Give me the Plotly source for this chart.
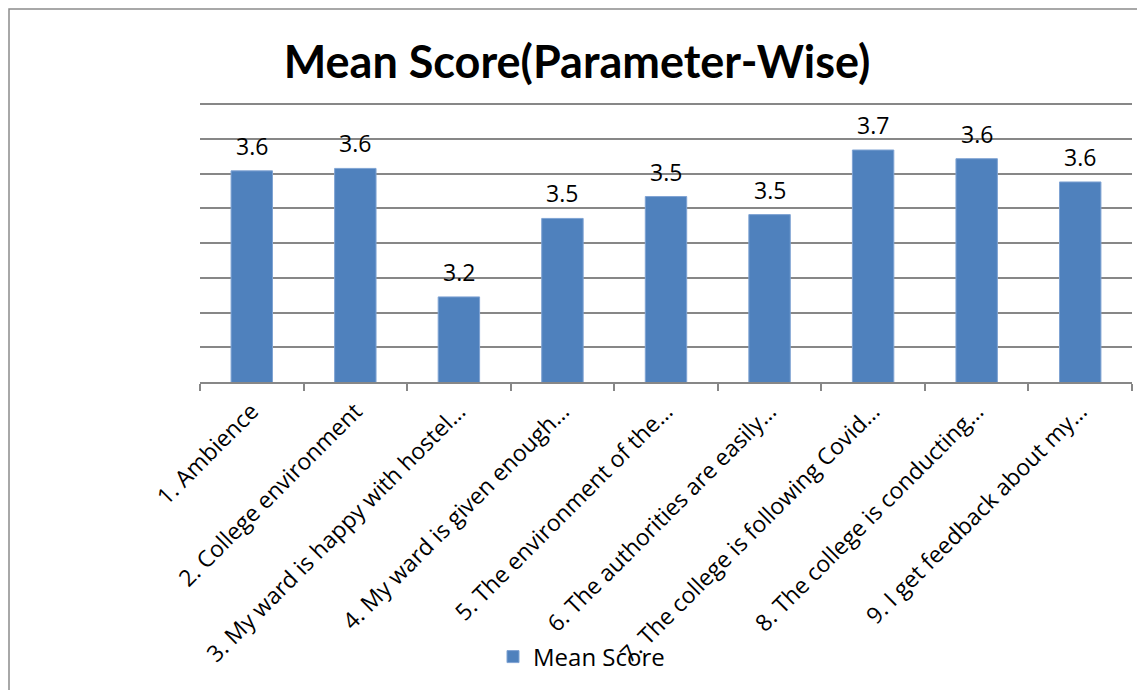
import plotly.graph_objects as go

categories = [
    "1. Ambience",
    "2. College environment",
    "3. My ward is happy with hostel…",
    "4. My ward is given enough…",
    "5. The environment of the…",
    "6. The authorities are easily…",
    "7. The college is following Covid…",
    "8. The college is conducting…",
    "9. I get feedback about my…",
]
mean_scores = [3.608, 3.615, 3.245, 3.471, 3.534, 3.482, 3.668, 3.643, 3.576]
series_name = "Mean Score"
title_text = "Mean Score(Parameter-Wise)"
y_min, y_top_grid, y_max = 3.0, 3.8, 3.812

W, H = 1137, 690
L, R, T, B = 200, 5, 100, 308
pw, ph = W - L - R, H - T - B

FONT = "'Open Sans', Carlito, Calibri, sans-serif"
TFONT = "Lato, Carlito, Calibri, sans-serif"
BAR = "#4F81BD"
GRID = "#878787"
FS = 23

fig = go.Figure()
fig.add_trace(go.Bar(
    x=categories, y=mean_scores, name=series_name,
    marker=dict(color=BAR, line=dict(color="#7fa3d3", width=1)),
    width=0.4, showlegend=True,
))

for c, v in zip(categories, mean_scores):
    fig.add_annotation(x=c, y=v, text=f"{v:.1f}", showarrow=False,
                       yanchor="middle", yshift=25,
                       font=dict(family=FONT, size=FS, color="#000000"))

# outer chart border (left and top visible)
fig.add_shape(type="rect", xref="paper", yref="paper",
              x0=(9 - L) / pw, x1=(W + 20 - L) / pw,
              y0=-(H + 20 - T - ph) / ph, y1=1 + (T - 9) / ph,
              line=dict(color="#8c8c8c", width=1.5), layer="below")

fig.update_layout(
    width=W, height=H,
    margin=dict(l=L, r=R, t=T, b=B, autoexpand=False),
    paper_bgcolor="white", plot_bgcolor="white",
    title=dict(text=f"<b>{title_text}</b>", x=577 / W, xanchor="center",
               y=1 - 62 / H, yanchor="middle",
               font=dict(family=TFONT, size=45, color="#000000")),
    font=dict(family=FONT, color="#000000"),
    legend=dict(orientation="h", x=(493 - L) / pw, xanchor="left",
                y=-(657 - T - ph) / ph, yanchor="middle",
                font=dict(family=FONT, size=24, color="#000000"),
                bgcolor="rgba(0,0,0,0)"),
    xaxis=dict(tickangle=-45, tickfont=dict(family=FONT, size=FS, color="#000000"),
               showline=True, linecolor=GRID, linewidth=1.5,
               ticks="outside", tickson="boundaries", ticklen=7, tickcolor=GRID,
               tickwidth=1.5, showgrid=False, automargin=False,
               ticklabelstandoff=5),
    yaxis=dict(range=[y_min, y_max], tick0=y_min, dtick=0.1, showticklabels=False,
               showgrid=True, gridcolor=GRID, gridwidth=1.5,
               zeroline=False, showline=False, ticks=""),
)

fig.write_html("out.html", config={"displayModeBar": False},
               post_script="document.body.style.margin='0';document.body.style.overflow='hidden';")
